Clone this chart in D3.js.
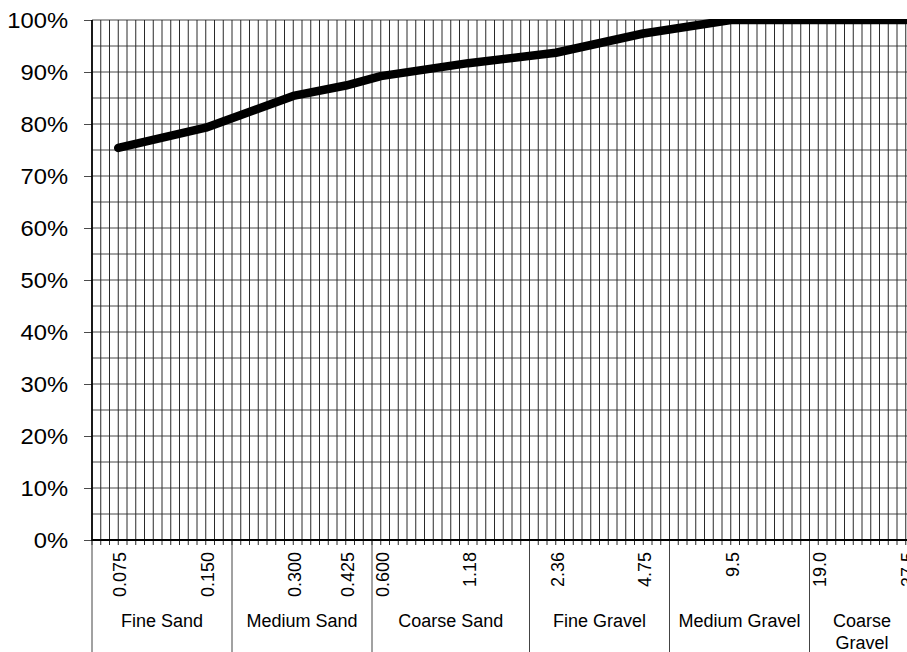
<!DOCTYPE html>
<html>
<head>
<meta charset="utf-8">
<script src="https://cdn.jsdelivr.net/npm/d3@7"></script>
<style>
  html, body { margin: 0; padding: 0; background: #fff; overflow: hidden; }
  svg { display: block; overflow: hidden; }
  text { font-family: "Liberation Sans", Arial, sans-serif; fill: #000; }
</style>
</head>
<body>
<svg id="chart" width="907" height="652"></svg>
<script>
// ---- data ----
const sieveLabels = ["0.075", "0.150", "0.300", "0.425", "0.600", "1.18", "2.36", "4.75", "9.5", "19.0", "37.5"];
const sieveSlot = [3, 13, 23, 29, 33, 43, 53, 63, 73, 83, 93];      // category slot on the axis
const percentPassing = [75.4, 79.3, 85.4, 87.4, 89.2, 91.7, 93.7, 97.4, 100, 100, 100];
const groupNames = ["Fine Sand", "Medium Sand", "Coarse Sand", "Fine Gravel", "Medium Gravel", "Coarse Gravel"];
const groupBounds = [0, 16, 32, 50, 66, 82, 94];                      // category slots bounding each group
const yTicks = [0, 10, 20, 30, 40, 50, 60, 70, 80, 90, 100];
const yMinor = [5, 15, 25, 35, 45, 55, 65, 75, 85, 95];
const nSlots = 94;

(function () {
// ---- layout ----
const svg = d3.select("#chart");
const pLeft = 92, pRight = 914.5, pTop = 20, pBottom = 540;
const x = d3.scaleLinear().domain([0, nSlots]).range([pLeft, pRight]);
const y = d3.scaleLinear().domain([0, 100]).range([pBottom, pTop]);
const gridColor = "#2a2a2a";

// horizontal gridlines
svg.append("g").selectAll("line")
  .data(yTicks.concat(yMinor).filter(v => v > 0))
  .join("line")
  .attr("x1", pLeft).attr("x2", pRight)
  .attr("y1", d => y(d)).attr("y2", d => y(d))
  .attr("stroke", gridColor).attr("stroke-width", 1).attr("opacity", 0.85);

// vertical gridlines (one per category slot)
svg.append("g").selectAll("line")
  .data(d3.range(1, nSlots + 1))
  .join("line")
  .attr("x1", d => x(d)).attr("x2", d => x(d))
  .attr("y1", pTop).attr("y2", pBottom)
  .attr("stroke", gridColor).attr("stroke-width", 1);

// small ticks below the x axis
svg.append("g").selectAll("line")
  .data(d3.range(0, nSlots + 1))
  .join("line")
  .attr("x1", d => x(d)).attr("x2", d => x(d))
  .attr("y1", pBottom).attr("y2", pBottom + 5)
  .attr("stroke", gridColor).attr("stroke-width", 1);

// group separators
svg.append("g").selectAll("line")
  .data(groupBounds)
  .join("line")
  .attr("x1", d => x(d)).attr("x2", d => x(d))
  .attr("y1", pBottom).attr("y2", 652)
  .attr("stroke", "#444").attr("stroke-width", 1);

// y axis
const yAxis = svg.append("g")
  .attr("transform", `translate(${pLeft},0)`)
  .call(d3.axisLeft(y).tickValues(yTicks).tickSize(8).tickFormat(d => d + "%"));
yAxis.select(".domain").remove();
yAxis.selectAll(".tick line").attr("stroke", gridColor).attr("opacity", 0.85);
yAxis.selectAll(".tick text")
  .attr("x", 0).attr("dy", "0.36em")
  .attr("transform", "translate(-24,0) scale(1.08,1)")
  .attr("text-anchor", "end")
  .attr("fill", "#000")
  .style("font-size", "22px")
  .style("font-family", '"Liberation Sans", Arial, sans-serif');

// axis lines
svg.append("line").attr("x1", pLeft).attr("x2", pLeft).attr("y1", pTop).attr("y2", pBottom + 1)
  .attr("stroke", "#000").attr("stroke-width", 1.8);
svg.append("line").attr("x1", pLeft).attr("x2", pRight).attr("y1", pBottom).attr("y2", pBottom)
  .attr("stroke", "#000").attr("stroke-width", 2);

// sieve size labels (rotated)
svg.append("g").selectAll("text")
  .data(sieveLabels)
  .join("text")
  .attr("transform", (d, i) => `translate(${x(sieveSlot[i]) + 7.75},552) rotate(-90)`)
  .attr("text-anchor", "end")
  .style("font-size", "18px")
  .text(d => d);

// group labels (wrapped if too wide)
const gl = svg.append("g");
groupNames.forEach((name, i) => {
  const x0 = x(groupBounds[i]), x1 = x(groupBounds[i + 1]);
  const cx = (x0 + x1) / 2;
  const t = gl.append("text").attr("x", cx).attr("y", 627)
    .attr("text-anchor", "middle").style("font-size", "18px").text(name);
  if (t.node().getComputedTextLength() > (x1 - x0) - 8) {
    const words = name.split(" ");
    t.text(null);
    words.forEach((w, j) => {
      t.append("tspan").attr("x", cx).attr("y", 627 + j * 22).text(w);
    });
  }
});

// data line
svg.append("clipPath").attr("id", "plotclip")
  .append("rect").attr("x", 0).attr("y", pTop - 1).attr("width", 1000).attr("height", 700);
const pts = sieveSlot.map((s, i) => [x(s), y(percentPassing[i])]);
svg.append("path")
  .attr("clip-path", "url(#plotclip)")
  .attr("d", d3.line()(pts))
  .attr("fill", "none").attr("stroke", "#000").attr("stroke-width", 8.5)
  .attr("stroke-linejoin", "round").attr("stroke-linecap", "round");
})();
</script>
</body>
</html>
